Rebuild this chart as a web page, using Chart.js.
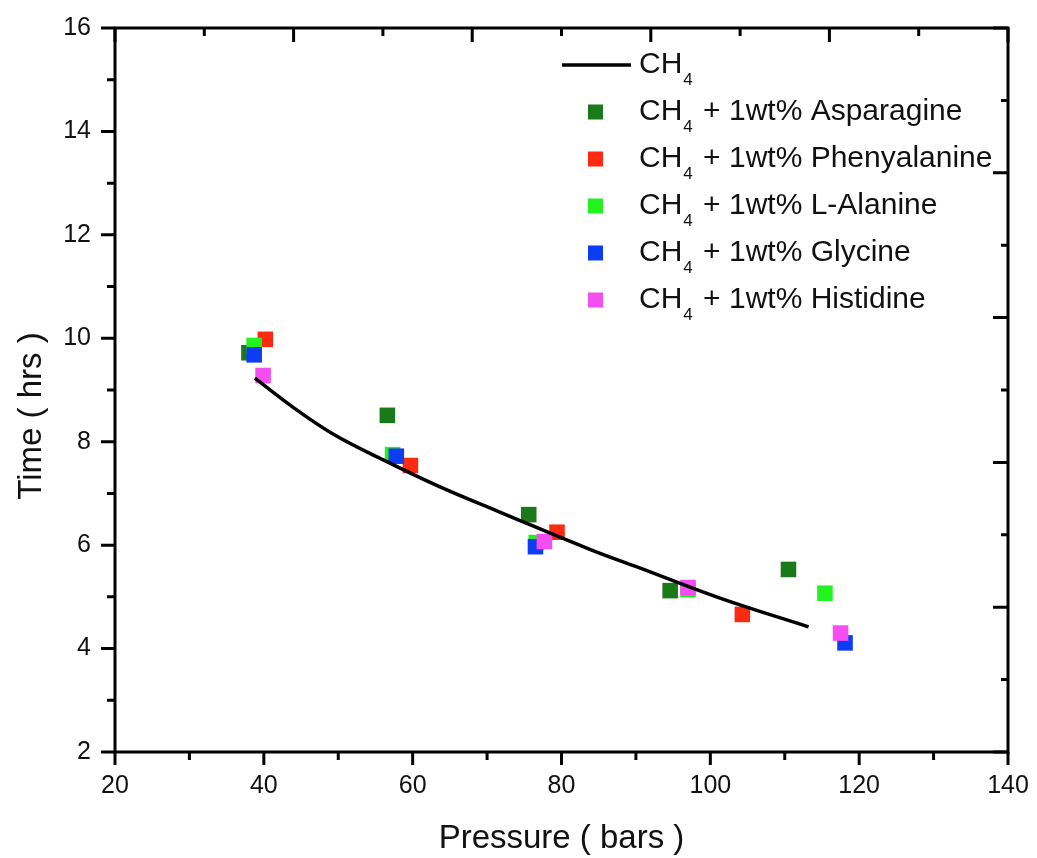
<!DOCTYPE html>
<html>
<head>
<meta charset="utf-8">
<script src="https://cdn.jsdelivr.net/npm/chart.js@4/dist/chart.umd.min.js"></script>
<style>
  html, body { margin: 0; padding: 0; background: #fff; }
  #wrap { width: 1037px; height: 858px; }
</style>
</head>
<body>
<div id="wrap"><canvas id="chart" width="1037" height="858"></canvas></div>
<script>
// pressure (bars) / induction time (hrs) per additive
const asparaginePressure = [38.0, 56.6, 75.6, 94.6, 110.5];
const asparagineTime = [9.72, 8.51, 6.59, 5.12, 5.53];

const phenylalaninePressure = [40.2, 59.7, 79.4, 104.3];
const phenylalanineTime = [9.98, 7.54, 6.25, 4.66];

const alaninePressure = [38.7, 57.3, 76.6, 97.0, 115.4];
const alanineTime = [9.86, 7.75, 6.05, 5.14, 5.07];

const glycinePressure = [38.7, 57.8, 76.5, 118.1];
const glycineTime = [9.68, 7.72, 5.97, 4.11];

const histidinePressure = [39.9, 77.7, 97.0, 117.5];
const histidineTime = [9.28, 6.07, 5.18, 4.30];

// pure CH4 curve
const methanePressure = [38.8, 43.9, 49.3, 55.6, 63.6, 71.7, 83.8, 90.5, 101.2, 113.2];
const methaneTime = [9.23, 8.67, 8.15, 7.68, 7.13, 6.64, 5.92, 5.56, 4.98, 4.42];

const additives = ['Asparagine', 'Phenyalanine', 'L-Alanine', 'Glycine', 'Histidine'];
const colors = ['#1a7a1a', '#fc2b12', '#22f21f', '#0d3df2', '#f44ef0'];

const xTicks = [20, 40, 60, 80, 100, 120, 140];
const yTicks = [2, 4, 6, 8, 10, 12, 14, 16];

const FONT = '"Liberation Sans", Arial, sans-serif';

function pts(xs, ys) {
  return xs.map((x, i) => ({ x: x, y: ys[i] }));
}

const scatterSets = [
  pts(asparaginePressure, asparagineTime),
  pts(phenylalaninePressure, phenylalanineTime),
  pts(alaninePressure, alanineTime),
  pts(glycinePressure, glycineTime),
  pts(histidinePressure, histidineTime)
].map((data, i) => ({
  type: 'scatter',
  label: 'CH4 + 1wt% ' + additives[i],
  data: data,
  pointStyle: 'rect',
  pointRadius: 11,
  pointHoverRadius: 11,
  borderWidth: 0,
  backgroundColor: colors[i],
  order: 5 - i
}));

const lineSet = {
  type: 'line',
  label: 'CH4',
  data: pts(methanePressure, methaneTime),
  borderColor: '#000',
  borderWidth: 3.5,
  pointRadius: 0,
  fill: false,
  tension: 0.4,
  order: 0
};

// frame, ticks (incl. minor and mirrored), axis titles, legend
const decorations = {
  id: 'decorations',
  afterDraw(chart) {
    const ctx = chart.ctx;
    const a = chart.chartArea;
    const xs = chart.scales.x, ys = chart.scales.y;
    const xt = chart.scales.x2, yr = chart.scales.y2;
    ctx.save();
    ctx.strokeStyle = '#000';
    ctx.lineWidth = 3;
    ctx.lineCap = 'butt';
    ctx.strokeRect(a.left, a.top, a.right - a.left, a.bottom - a.top);

    ctx.beginPath();
    // left: outward
    for (let v = 2; v <= 16; v += 1) {
      const p = ys.getPixelForValue(v);
      const len = v % 2 === 0 ? 14 : 8;
      ctx.moveTo(a.left, p); ctx.lineTo(a.left - len, p);
    }
    // bottom: outward
    for (let v = 20; v <= 140; v += 10) {
      const p = xs.getPixelForValue(v);
      const len = v % 20 === 0 ? 13 : 8;
      ctx.moveTo(p, a.bottom); ctx.lineTo(p, a.bottom + len);
    }
    // top: inward
    for (let v = 0; v <= 10; v += 1) {
      const p = xt.getPixelForValue(v);
      const len = v % 2 === 0 ? 14 : 8;
      ctx.moveTo(p, a.top); ctx.lineTo(p, a.top + len);
    }
    // right: inward
    for (let v = 0; v <= 10; v += 1) {
      const p = yr.getPixelForValue(v);
      const len = v % 2 === 0 ? 15 : 7;
      ctx.moveTo(a.right, p); ctx.lineTo(a.right - len, p);
    }
    ctx.stroke();

    // axis titles
    ctx.fillStyle = '#111';
    ctx.font = '33px ' + FONT;
    ctx.textAlign = 'center';
    ctx.textBaseline = 'middle';
    ctx.fillText('Pressure ( bars )', (a.left + a.right) / 2, 839);
    ctx.save();
    ctx.translate(32, 416);
    ctx.rotate(-Math.PI / 2);
    ctx.fillText('Time ( hrs )', 0, 0);
    ctx.restore();

    // legend
    const rowY = [65, 112, 159, 206, 253, 300];
    const textX = 639;
    function label(y, rest) {
      ctx.textAlign = 'left';
      ctx.textBaseline = 'middle';
      ctx.font = '30px ' + FONT;
      ctx.fillText('CH', textX, y);
      const w = ctx.measureText('CH').width;
      ctx.font = '17px ' + FONT;
      ctx.fillText('4', textX + w + 1, y + 15);
      const w4 = ctx.measureText('4').width;
      ctx.font = '30px ' + FONT;
      if (rest) ctx.fillText(rest, textX + w + w4 + 3, y);
    }
    ctx.strokeStyle = '#000';
    ctx.lineWidth = 3.5;
    ctx.beginPath();
    ctx.moveTo(562, rowY[0]); ctx.lineTo(631, rowY[0]);
    ctx.stroke();
    label(rowY[0], '');
    additives.forEach((name, i) => {
      const y = rowY[i + 1];
      ctx.fillStyle = colors[i];
      ctx.fillRect(588, y - 7.5, 15, 15);
      ctx.fillStyle = '#111';
      label(y, ' + 1wt% ' + name);
    });
    ctx.restore();
  }
};

new Chart(document.getElementById('chart'), {
  data: { datasets: [lineSet].concat(scatterSets) },
  options: {
    responsive: false,
    animation: false,
    events: [],
    layout: { padding: { top: 28, right: 29, left: 0, bottom: 0 } },
    plugins: { legend: { display: false }, tooltip: { enabled: false } },
    scales: {
      x: {
        type: 'linear',
        position: 'bottom',
        min: 20, max: 140,
        afterBuildTicks: s => { s.ticks = xTicks.map(v => ({ value: v })); },
        afterFit: s => { s.height = 106; s.paddingLeft = 0; s.paddingRight = 0; },
        grid: { display: false, drawTicks: false },
        border: { display: false },
        ticks: { color: '#111', padding: 19, maxRotation: 0, font: { family: FONT, size: 25 } }
      },
      y: {
        type: 'linear',
        position: 'left',
        min: 2, max: 16,
        afterBuildTicks: s => { s.ticks = yTicks.map(v => ({ value: v })); },
        afterFit: s => { s.width = 115; s.paddingTop = 0; s.paddingBottom = 0; },
        grid: { display: false, drawTicks: false },
        border: { display: false },
        ticks: { color: '#111', padding: 24, font: { family: FONT, size: 25 } }
      },
      x2: { type: 'linear', position: 'top', min: 0, max: 10, display: false },
      y2: { type: 'linear', position: 'right', min: 0, max: 10, display: false }
    }
  },
  plugins: [decorations]
});
</script>
</body>
</html>
